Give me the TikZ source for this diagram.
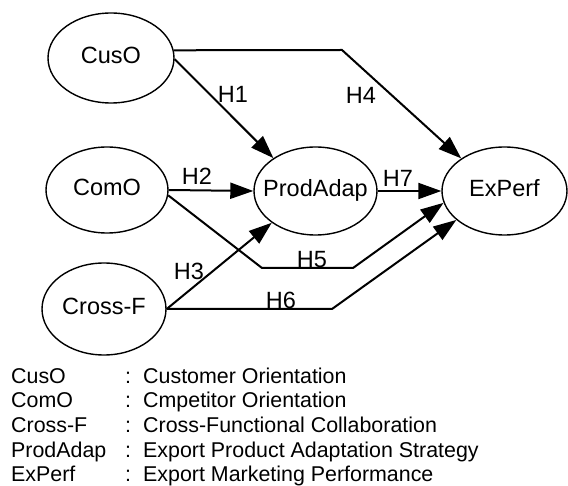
\documentclass[tikz,border=0pt]{standalone}
\usepackage{fontspec}
\setmainfont{Liberation Sans}
\usetikzlibrary{arrows.meta,shapes.geometric}
\begin{document}
\begin{tikzpicture}[x=1pt,y=-1pt,
  construct/.style={draw, ellipse, line width=1.4pt, inner sep=0pt,
    minimum width=125pt, minimum height=88pt},
  ctext/.style={inner sep=0pt, text height=17pt, text depth=0pt, yshift=3pt,
    font=\fontsize{23.5}{28}\selectfont},
  hyp/.style={line width=2pt, line join=miter, -{Triangle[length=23pt,width=16pt]}},
  hlabel/.style={inner sep=0pt, font=\fontsize{23.5}{28}\selectfont},
  legend/.style={anchor=base west, inner sep=0pt, font=\fontsize{21.4}{25}\selectfont}]
\useasboundingbox (0,0) rectangle (568,486);

% constructs
\node[construct, minimum width=126pt, minimum height=90pt] (CusO) at (111,58) {};
\node[construct, minimum width=122pt, minimum height=86pt] (ComO) at (107,190) {};
\node[construct, minimum width=124pt, minimum height=92pt] (CrossF) at (104,309) {};
\node[construct, minimum width=123pt, minimum height=88pt] (ProdAdap) at (315.5,191) {};
\node[construct, minimum width=125pt, minimum height=88pt] (ExPerf) at (504.5,191) {};

\node[ctext] (tCusO) at (CusO) {CusO};
\node[ctext] (tComO) at (ComO) {ComO};
\node[ctext] (tCrossF) at (CrossF) {Cross-F};
\node[ctext] (tProdAdap) at (ProdAdap) {ProdAdap};
\node[ctext] (tExPerf) at (ExPerf) {ExPerf};

% bend points
\coordinate (b4) at (342,50);
\coordinate (b5a) at (262,268);
\coordinate (b5b) at (353,268);
\coordinate (b6) at (332,309);

% hypotheses
\draw[hyp] (CusO.-1) -- (ProdAdap.142.8);
\draw[hyp] (ComO.east) -- (ProdAdap.west);
\draw[hyp] (CrossF.east) -- (ProdAdap.216);
\draw[hyp] (CusO.7.4) -- (b4) -- (ExPerf.143.7);
\draw[hyp] (ComO.-5) -- (b5a) -- (b5b) -- (ExPerf.191);
\draw[hyp] (CrossF.east) -- (b6) -- (ExPerf.211.7);
\draw[hyp] (ProdAdap.east) -- (ExPerf.west);

% labels
\node[hlabel] (H1) at (233,94) {H1};
\node[hlabel] (H2) at (197,176) {H2};
\node[hlabel] (H3) at (189,271) {H3};
\node[hlabel] (H4) at (361,95) {H4};
\node[hlabel] (H5) at (312,260) {H5};
\node[hlabel] (H6) at (281,300) {H6};
\node[hlabel] (H7) at (398,178) {H7};

% legend
\node[legend] (l1a) at (11,383.5) {CusO};
\node[legend] (l1b) at (125,383.5) {:};
\node[legend] (l1c) at (143,383.5) {Customer Orientation};
\node[legend] (l2a) at (11,408) {ComO};
\node[legend] (l2b) at (125,408) {:};
\node[legend] (l2c) at (143,408) {Cmpetitor Orientation};
\node[legend] (l3a) at (11,432.5) {Cross-F};
\node[legend] (l3b) at (125,432.5) {:};
\node[legend] (l3c) at (143,432.5) {Cross-Functional Collaboration};
\node[legend] (l4a) at (11,457) {ProdAdap};
\node[legend] (l4b) at (125,457) {:};
\node[legend] (l4c) at (143,457) {Export Product Adaptation Strategy};
\node[legend] (l5a) at (11,481.5) {ExPerf};
\node[legend] (l5b) at (125,481.5) {:};
\node[legend] (l5c) at (143,481.5) {Export Marketing Performance};
\end{tikzpicture}
\end{document}
